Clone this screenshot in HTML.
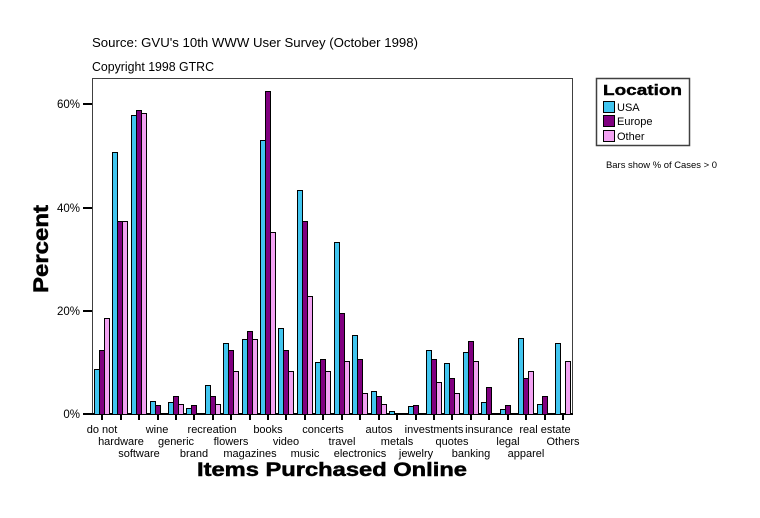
<!DOCTYPE html>
<html><head><meta charset="utf-8"><style>
html,body{margin:0;padding:0;background:#fff;}
svg{display:block;font-family:"Liberation Sans",Arial,sans-serif;}
.u{fill:#41C5EF}.e{fill:#800080}.o{fill:#F2A2F2}
.xl{font-size:11px;text-anchor:middle;fill:#000}
.yl{font-size:11.5px;text-anchor:end;fill:#000}
</style></head><body>
<svg width="760" height="518" viewBox="0 0 760 518" xmlns="http://www.w3.org/2000/svg">
<rect width="760" height="518" fill="#fff"/>
<text x="92" y="47" font-size="13" textLength="326" lengthAdjust="spacingAndGlyphs">Source: GVU's 10th WWW User Survey (October 1998)</text>
<text x="92" y="71" font-size="13" textLength="122" lengthAdjust="spacingAndGlyphs">Copyright 1998 GTRC</text>
<rect x="92.5" y="78.5" width="480" height="336" fill="none" stroke="#404040" stroke-width="1"/>
<g shape-rendering="crispEdges">
<rect x="83" y="103" width="9" height="2" fill="#000"/>
<rect x="83" y="207" width="9" height="2" fill="#000"/>
<rect x="83" y="310" width="9" height="2" fill="#000"/>
<rect x="83" y="413" width="490" height="2" fill="#000"/>
</g>
<text class="yl" x="80" y="108">60%</text>
<text class="yl" x="80" y="212">40%</text>
<text class="yl" x="80" y="315">20%</text>
<text class="yl" x="80" y="418">0%</text>
<text transform="translate(48,293) rotate(-90)" font-size="21" font-weight="bold" stroke="#000" stroke-width="0.5" textLength="88" lengthAdjust="spacingAndGlyphs">Percent</text>
<g stroke="#000" stroke-width="1" shape-rendering="crispEdges">
<rect class="u" x="94.5" y="369.5" width="5" height="45"/><rect class="e" x="99.5" y="350.5" width="5" height="64"/><rect class="o" x="104.5" y="318.5" width="5" height="96"/>
<rect class="u" x="112.5" y="152.5" width="5" height="262"/><rect class="e" x="117.5" y="221.5" width="5" height="193"/><rect class="o" x="122.5" y="221.5" width="5" height="193"/>
<rect class="u" x="131.5" y="115.5" width="5" height="299"/><rect class="e" x="136.5" y="110.5" width="5" height="304"/><rect class="o" x="141.5" y="113.5" width="5" height="301"/>
<rect class="u" x="150.5" y="401.5" width="5" height="13"/><rect class="e" x="155.5" y="405.5" width="5" height="9"/>
<rect class="u" x="168.5" y="402.5" width="5" height="12"/><rect class="e" x="173.5" y="396.5" width="5" height="18"/><rect class="o" x="178.5" y="404.5" width="5" height="10"/>
<rect class="u" x="186.5" y="408.5" width="5" height="6"/><rect class="e" x="191.5" y="405.5" width="5" height="9"/>
<rect class="u" x="205.5" y="385.5" width="5" height="29"/><rect class="e" x="210.5" y="396.5" width="5" height="18"/><rect class="o" x="215.5" y="404.5" width="5" height="10"/>
<rect class="u" x="223.5" y="343.5" width="5" height="71"/><rect class="e" x="228.5" y="350.5" width="5" height="64"/><rect class="o" x="233.5" y="371.5" width="5" height="43"/>
<rect class="u" x="242.5" y="339.5" width="5" height="75"/><rect class="e" x="247.5" y="331.5" width="5" height="83"/><rect class="o" x="252.5" y="339.5" width="5" height="75"/>
<rect class="u" x="260.5" y="140.5" width="5" height="274"/><rect class="e" x="265.5" y="91.5" width="5" height="323"/><rect class="o" x="270.5" y="232.5" width="5" height="182"/>
<rect class="u" x="278.5" y="328.5" width="5" height="86"/><rect class="e" x="283.5" y="350.5" width="5" height="64"/><rect class="o" x="288.5" y="371.5" width="5" height="43"/>
<rect class="u" x="297.5" y="190.5" width="5" height="224"/><rect class="e" x="302.5" y="221.5" width="5" height="193"/><rect class="o" x="307.5" y="296.5" width="5" height="118"/>
<rect class="u" x="315.5" y="362.5" width="5" height="52"/><rect class="e" x="320.5" y="359.5" width="5" height="55"/><rect class="o" x="325.5" y="371.5" width="5" height="43"/>
<rect class="u" x="334.5" y="242.5" width="5" height="172"/><rect class="e" x="339.5" y="313.5" width="5" height="101"/><rect class="o" x="344.5" y="361.5" width="5" height="53"/>
<rect class="u" x="352.5" y="335.5" width="5" height="79"/><rect class="e" x="357.5" y="359.5" width="5" height="55"/><rect class="o" x="362.5" y="393.5" width="5" height="21"/>
<rect class="u" x="371.5" y="391.5" width="5" height="23"/><rect class="e" x="376.5" y="396.5" width="5" height="18"/><rect class="o" x="381.5" y="404.5" width="5" height="10"/>
<rect class="u" x="389.5" y="411.5" width="5" height="3"/>
<rect class="u" x="408.5" y="406.5" width="5" height="8"/><rect class="e" x="413.5" y="405.5" width="5" height="9"/>
<rect class="u" x="426.5" y="350.5" width="5" height="64"/><rect class="e" x="431.5" y="359.5" width="5" height="55"/><rect class="o" x="436.5" y="382.5" width="5" height="32"/>
<rect class="u" x="444.5" y="363.5" width="5" height="51"/><rect class="e" x="449.5" y="378.5" width="5" height="36"/><rect class="o" x="454.5" y="393.5" width="5" height="21"/>
<rect class="u" x="463.5" y="352.5" width="5" height="62"/><rect class="e" x="468.5" y="341.5" width="5" height="73"/><rect class="o" x="473.5" y="361.5" width="5" height="53"/>
<rect class="u" x="481.5" y="402.5" width="5" height="12"/><rect class="e" x="486.5" y="387.5" width="5" height="27"/>
<rect class="u" x="500.5" y="409.5" width="5" height="5"/><rect class="e" x="505.5" y="405.5" width="5" height="9"/>
<rect class="u" x="518.5" y="338.5" width="5" height="76"/><rect class="e" x="523.5" y="378.5" width="5" height="36"/><rect class="o" x="528.5" y="371.5" width="5" height="43"/>
<rect class="u" x="537.5" y="404.5" width="5" height="10"/><rect class="e" x="542.5" y="396.5" width="5" height="18"/>
<rect class="u" x="555.5" y="343.5" width="5" height="71"/><rect class="o" x="565.5" y="361.5" width="5" height="53"/>
</g>
<g fill="#000" shape-rendering="crispEdges">
<rect x="101" y="414" width="2" height="6"/><rect x="120" y="414" width="2" height="6"/><rect x="138" y="414" width="2" height="6"/><rect x="157" y="414" width="2" height="6"/><rect x="175" y="414" width="2" height="6"/><rect x="193" y="414" width="2" height="6"/><rect x="212" y="414" width="2" height="6"/><rect x="230" y="414" width="2" height="6"/><rect x="249" y="414" width="2" height="6"/><rect x="267" y="414" width="2" height="6"/><rect x="285" y="414" width="2" height="6"/><rect x="304" y="414" width="2" height="6"/><rect x="322" y="414" width="2" height="6"/><rect x="341" y="414" width="2" height="6"/><rect x="359" y="414" width="2" height="6"/><rect x="378" y="414" width="2" height="6"/><rect x="396" y="414" width="2" height="6"/><rect x="415" y="414" width="2" height="6"/><rect x="433" y="414" width="2" height="6"/><rect x="451" y="414" width="2" height="6"/><rect x="470" y="414" width="2" height="6"/><rect x="488" y="414" width="2" height="6"/><rect x="507" y="414" width="2" height="6"/><rect x="525" y="414" width="2" height="6"/><rect x="544" y="414" width="2" height="6"/><rect x="562" y="414" width="2" height="6"/>
</g>
<text class="xl" x="102" y="433">do not</text>
<text class="xl" x="121" y="445">hardware</text>
<text class="xl" x="139" y="457">software</text>
<text class="xl" x="157" y="433">wine</text>
<text class="xl" x="176" y="445">generic</text>
<text class="xl" x="194" y="457">brand</text>
<text class="xl" x="212" y="433">recreation</text>
<text class="xl" x="231" y="445">flowers</text>
<text class="xl" x="250" y="457">magazines</text>
<text class="xl" x="268" y="433">books</text>
<text class="xl" x="286" y="445">video</text>
<text class="xl" x="305" y="457">music</text>
<text class="xl" x="323" y="433">concerts</text>
<text class="xl" x="342" y="445">travel</text>
<text class="xl" x="360" y="457">electronics</text>
<text class="xl" x="379" y="433">autos</text>
<text class="xl" x="397" y="445">metals</text>
<text class="xl" x="416" y="457">jewelry</text>
<text class="xl" x="434" y="433">investments</text>
<text class="xl" x="452" y="445">quotes</text>
<text class="xl" x="471" y="457">banking</text>
<text class="xl" x="489" y="433">insurance</text>
<text class="xl" x="508" y="445">legal</text>
<text class="xl" x="526" y="457">apparel</text>
<text class="xl" x="545" y="433">real estate</text>
<text class="xl" x="563" y="445">Others</text>
<text x="197" y="476" font-size="19" font-weight="bold" stroke="#000" stroke-width="0.5" textLength="270" lengthAdjust="spacingAndGlyphs">Items Purchased Online</text>
<rect x="596.5" y="78.5" width="93" height="67" fill="#fff" stroke="#404040" stroke-width="1.5"/>
<text x="603" y="95" font-size="15" font-weight="bold" stroke="#000" stroke-width="0.4" textLength="79" lengthAdjust="spacingAndGlyphs">Location</text>
<g stroke="#000" stroke-width="1" shape-rendering="crispEdges">
<rect class="u" x="603.5" y="101.5" width="11" height="11"/>
<rect class="e" x="603.5" y="115.5" width="11" height="11"/>
<rect class="o" x="603.5" y="130.5" width="11" height="11"/>
</g>
<text x="617" y="111" font-size="11">USA</text>
<text x="617" y="125" font-size="11">Europe</text>
<text x="617" y="140" font-size="11">Other</text>
<text x="606" y="168" font-size="9.5" textLength="111" lengthAdjust="spacingAndGlyphs">Bars show % of Cases &gt; 0</text>
</svg>
</body></html>
